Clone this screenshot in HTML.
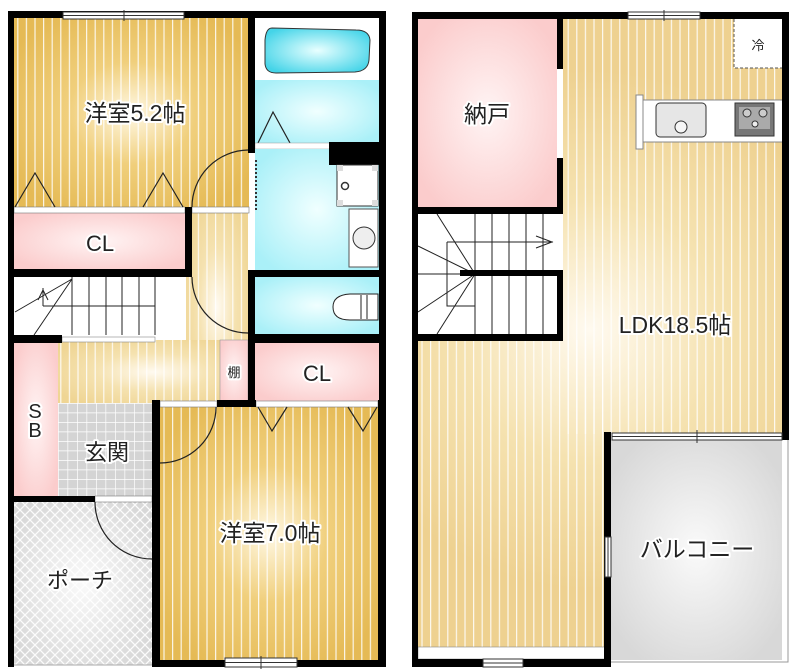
<!DOCTYPE html>
<html><head><meta charset="utf-8"><style>
html,body{margin:0;padding:0;background:#fff;}
svg{display:block;}
text{font-family:"Liberation Sans","Noto Sans CJK JP",sans-serif;paint-order:stroke;stroke:#fff;stroke-width:4px;stroke-linejoin:round;fill:#222;}
</style></head><body>
<svg width="800" height="671" viewBox="0 0 800 671" xmlns="http://www.w3.org/2000/svg">
<defs>
<radialGradient id="gold" cx="50%" cy="50%" r="60%"><stop offset="0" stop-color="#fff8e4"/><stop offset="0.45" stop-color="#f0cf7c"/><stop offset="1" stop-color="#e5ba55"/></radialGradient>
<radialGradient id="lgold" cx="50%" cy="50%" r="60%"><stop offset="0" stop-color="#fffaf0"/><stop offset="0.5" stop-color="#f5e2b0"/><stop offset="1" stop-color="#efd594"/></radialGradient>
<radialGradient id="ldk" gradientUnits="userSpaceOnUse" cx="590" cy="330" r="260"><stop offset="0" stop-color="#fffaf0"/><stop offset="0.5" stop-color="#f5e2b0"/><stop offset="1" stop-color="#eed190"/></radialGradient>
<radialGradient id="pink" cx="50%" cy="50%" r="60%"><stop offset="0" stop-color="#fff4f4"/><stop offset="1" stop-color="#fbcccc"/></radialGradient>
<radialGradient id="cyan" cx="50%" cy="50%" r="60%"><stop offset="0" stop-color="#f0ffff"/><stop offset="1" stop-color="#aaf0f8"/></radialGradient>
<radialGradient id="tub" cx="50%" cy="50%" r="60%"><stop offset="0" stop-color="#e8ffff"/><stop offset="1" stop-color="#44d4e8"/></radialGradient>
<radialGradient id="grey" cx="50%" cy="50%" r="60%"><stop offset="0" stop-color="#fafafa"/><stop offset="1" stop-color="#d8d8d8"/></radialGradient>
<pattern id="stripe" width="8.6" height="10" patternUnits="userSpaceOnUse"><rect x="0" y="0" width="1.2" height="10" fill="#fff" opacity="0.85"/></pattern>
<pattern id="tile" width="9.5" height="9.5" patternUnits="userSpaceOnUse" x="58" y="403"><path d="M0 0H9.5M0 0V9.5" stroke="#fff" stroke-width="1.4" fill="none"/></pattern>
<pattern id="diam" width="10" height="10" patternUnits="userSpaceOnUse"><path d="M0 0L10 10M10 0L0 10" stroke="#fff" stroke-width="1.3" fill="none"/></pattern>
</defs>

<!-- ===== LEFT UNIT ===== -->
<rect x="14" y="18" width="235" height="190" fill="url(#gold)"/><rect x="14" y="18" width="235" height="190" fill="url(#stripe)"/>
<rect x="14" y="213" width="172" height="56" fill="url(#pink)"/>
<rect x="186" y="207" width="62" height="200" fill="url(#lgold)"/><rect x="58" y="340" width="190" height="64" fill="url(#lgold)"/>
<rect x="186" y="207" width="62" height="200" fill="url(#stripe)"/><rect x="58" y="340" width="190" height="64" fill="url(#stripe)"/>
<rect x="255" y="18" width="124" height="62" fill="#fff"/>
<rect x="255" y="80" width="124" height="63" fill="url(#cyan)"/>
<path d="M272 28 Q266 28 265 40 L265 64 Q266 73 276 73 L355 72 Q368 71 369 60 L370 40 Q369 30 356 30 Z" fill="url(#tub)" stroke="#333" stroke-width="1"/>
<path d="M258 143 L273 112 L290 143" fill="none" stroke="#222" stroke-width="1.2"/>
<rect x="255" y="143" width="75" height="6" fill="#fff" stroke="#999" stroke-width="0.5"/>
<rect x="255" y="149" width="124" height="121" fill="url(#cyan)"/>
<rect x="329" y="142" width="56" height="23" fill="#000"/>
<rect x="337" y="165" width="41" height="41" fill="#fff" stroke="#333"/>
<rect x="337" y="165" width="6" height="6" fill="#ddd"/><rect x="372" y="165" width="6" height="6" fill="#ddd"/><rect x="337" y="200" width="6" height="6" fill="#ddd"/><rect x="372" y="200" width="6" height="6" fill="#ddd"/>
<circle cx="345" cy="186" r="3.5" fill="none" stroke="#333" stroke-width="1.5"/>
<rect x="349" y="209" width="29" height="58" fill="#fff" stroke="#555"/>
<circle cx="364" cy="238" r="11" fill="#eee" stroke="#333"/>
<line x1="256" y1="160" x2="256" y2="210" stroke="#333" stroke-width="2" stroke-dasharray="2,2"/>
<rect x="255" y="277" width="124" height="57" fill="url(#cyan)"/>
<path d="M378 294 L350 294 Q333 295 333 307 Q333 320 350 320 L378 320 Z" fill="#fff" stroke="#222"/>
<line x1="361" y1="295" x2="361" y2="319" stroke="#222"/><line x1="367" y1="295" x2="367" y2="319" stroke="#222"/>
<rect x="14" y="277" width="141" height="58" fill="#fff"/>
<g stroke="#222" stroke-width="1" fill="none">
<path d="M72 277V335M89 277V335M106 277V335M122 277V335M139 277V335M155 277V335M72 306H155"/>
<path d="M72 279 L15 312 M72 279 L34 335 M43 306 L72 306 M43 306 L43 288"/>
<path d="M38 300 L43 290 L48 300"/>
</g>
<rect x="62" y="337" width="93" height="5" fill="#fff" stroke="#888" stroke-width="0.6"/>
<rect x="14" y="343" width="44" height="153" fill="url(#pink)"/>
<rect x="220" y="340" width="28" height="62" fill="url(#pink)" stroke="#999" stroke-width="0.6"/>
<rect x="255" y="343" width="124" height="58" fill="url(#pink)"/>
<rect x="58" y="403" width="94" height="93" fill="#d4d4d4"/><rect x="58" y="403" width="94" height="93" fill="url(#tile)"/>
<rect x="14" y="502" width="138" height="163" fill="url(#grey)"/><rect x="14" y="502" width="138" height="163" fill="url(#diam)" opacity="0.9"/>
<line x1="14" y1="665" x2="152" y2="665" stroke="#aaa"/>
<rect x="160" y="407" width="218" height="253" fill="url(#gold)"/><rect x="160" y="407" width="218" height="253" fill="url(#stripe)"/>
<rect x="14" y="207" width="171" height="6" fill="#fff" stroke="#777" stroke-width="0.6"/>
<rect x="192" y="207" width="57" height="6" fill="#fff" stroke="#777" stroke-width="0.6"/>
<rect x="160" y="401" width="57" height="6" fill="#fff" stroke="#777" stroke-width="0.6"/>
<rect x="256" y="401" width="122" height="6" fill="#fff" stroke="#777" stroke-width="0.6"/>
<rect x="95" y="496" width="57" height="6" fill="#fff" stroke="#777" stroke-width="0.6"/>
<g stroke="#222" stroke-width="1.2" fill="none">
<path d="M15 207 L35 173 L55 207M143 207 L163 173 L183 207"/>
<path d="M258 407 L272 431 L287 407M348 407 L363 431 L377 407"/>
<path d="M248 150 A57 57 0 0 0 192 207"/>
<path d="M192 277 A56 56 0 0 0 248 333"/>
<path d="M216 407 A56 56 0 0 1 160 463"/>
<path d="M95 502 A57 57 0 0 0 152 559"/>
</g>
<g fill="#000">
<rect x="8" y="11" width="378" height="7"/>
<rect x="8" y="11" width="6" height="656"/>
<rect x="379" y="11" width="7" height="396"/>
<rect x="248" y="11" width="7" height="139"/>
<rect x="248" y="143" width="7" height="10"/>
<rect x="248" y="270" width="138" height="7"/>
<rect x="248" y="277" width="7" height="130"/>
<rect x="185" y="207" width="7" height="70"/>
<rect x="8" y="269" width="184" height="8"/>
<rect x="8" y="335" width="54" height="8"/>
<rect x="248" y="334" width="138" height="9"/>
<rect x="217" y="400" width="39" height="7"/>
<rect x="152" y="400" width="8" height="267"/>
<rect x="8" y="496" width="87" height="6"/>
<rect x="152" y="660" width="234" height="7"/>
<rect x="378" y="400" width="8" height="267"/>
</g>
<g fill="#fff" stroke="#333" stroke-width="1">
<rect x="63" y="12" width="121" height="7"/><line x1="63" y1="15.5" x2="184" y2="15.5"/><line x1="124" y1="10" x2="124" y2="21"/>
<rect x="225" y="658" width="72" height="9"/><line x1="225" y1="662.5" x2="297" y2="662.5"/><line x1="261" y1="656" x2="261" y2="669"/>
</g>
<text x="135" y="121" font-size="23" text-anchor="middle">洋室5.2帖</text>
<text x="100" y="251" font-size="22" text-anchor="middle">CL</text>
<text x="317" y="381" font-size="22" text-anchor="middle">CL</text>
<text x="234" y="377" font-size="13" text-anchor="middle">棚</text>
<text x="35" y="418" font-size="20" text-anchor="middle">S</text>
<text x="35" y="437" font-size="20" text-anchor="middle">B</text>
<text x="107" y="460" font-size="22" text-anchor="middle">玄関</text>
<text x="80" y="588" font-size="22" text-anchor="middle">ポーチ</text>
<text x="270" y="541" font-size="23" text-anchor="middle">洋室7.0帖</text>

<!-- ===== RIGHT UNIT ===== -->
<path d="M563 19H783V434H610V660H418V340H563Z" fill="url(#ldk)"/>
<rect x="563" y="19" width="220" height="415" fill="url(#stripe)"/><rect x="418" y="340" width="192" height="308" fill="url(#stripe)"/>
<rect x="418" y="647" width="187" height="12" fill="#fff" stroke="#888" stroke-width="0.6"/>
<rect x="418" y="19" width="139" height="188" fill="url(#pink)"/>
<rect x="418" y="214" width="139" height="120" fill="#fff"/>
<g stroke="#222" stroke-width="1" fill="none">
<path d="M475 214V334M492 214V334M509 214V334M526 214V334M543 214V334M418 274H557M447 242H553M447 242V306H475"/>
<path d="M475 274 L437 214 M475 274 L418 246 M475 274 L418 312 M475 274 L437 334"/>
<path d="M536 236 L552 242 L536 248"/>
</g>
<rect x="460" y="270" width="103" height="6" fill="#000"/>
<rect x="734" y="19" width="48" height="49" fill="#fff"/>
<path d="M734 19V68H782" fill="none" stroke="#555" stroke-dasharray="3,2"/>
<text x="758" y="50" font-size="13" text-anchor="middle">冷</text>
<rect x="636" y="95" width="7" height="54" fill="#fff" stroke="#888"/>
<rect x="643" y="100" width="140" height="42" fill="#fff" stroke="#888"/>
<rect x="656" y="103" width="50" height="34" rx="4" fill="#e6e6e6" stroke="#333"/>
<circle cx="681" cy="127" r="6" fill="#f6f6f6" stroke="#333"/>
<rect x="735" y="103" width="39" height="33" fill="#777" stroke="#333"/>
<rect x="739" y="107" width="31" height="22" fill="#aaa"/>
<circle cx="747" cy="113" r="4" fill="#ccc" stroke="#333"/><circle cx="763" cy="113" r="4" fill="#ccc" stroke="#333"/><circle cx="755" cy="124" r="3" fill="#eee" stroke="#333"/>
<rect x="611" y="440" width="171" height="220" fill="url(#grey)"/>
<path d="M611 662H788V438" fill="none" stroke="#999"/>
<g fill="#000">
<rect x="412" y="12" width="377" height="7"/>
<rect x="412" y="12" width="6" height="655"/>
<rect x="782" y="12" width="7" height="428"/>
<rect x="557" y="12" width="6" height="57"/>
<rect x="557" y="158" width="6" height="56"/>
<rect x="412" y="207" width="151" height="7"/>
<rect x="557" y="270" width="6" height="70"/>
<rect x="412" y="334" width="151" height="7"/>
<rect x="604" y="432" width="7" height="235"/>
<rect x="412" y="659" width="199" height="8"/>
</g>
<g fill="#fff" stroke="#333" stroke-width="1">
<rect x="628" y="12" width="72" height="7"/><line x1="628" y1="15.5" x2="700" y2="15.5"/><line x1="664" y1="10" x2="664" y2="21"/>
<rect x="612" y="433" width="170" height="7"/><line x1="612" y1="436.5" x2="782" y2="436.5"/><line x1="697" y1="430" x2="697" y2="443"/>
<rect x="605" y="537" width="6" height="40"/><line x1="608" y1="537" x2="608" y2="577"/>
<rect x="483" y="659" width="40" height="8"/><line x1="483" y1="663" x2="523" y2="663"/>
</g>
<text x="487" y="122" font-size="23" text-anchor="middle">納戸</text>
<text x="675" y="333" font-size="23" text-anchor="middle">LDK18.5帖</text>
<text x="697" y="557" font-size="23" text-anchor="middle">バルコニー</text>
</svg>
</body></html>
